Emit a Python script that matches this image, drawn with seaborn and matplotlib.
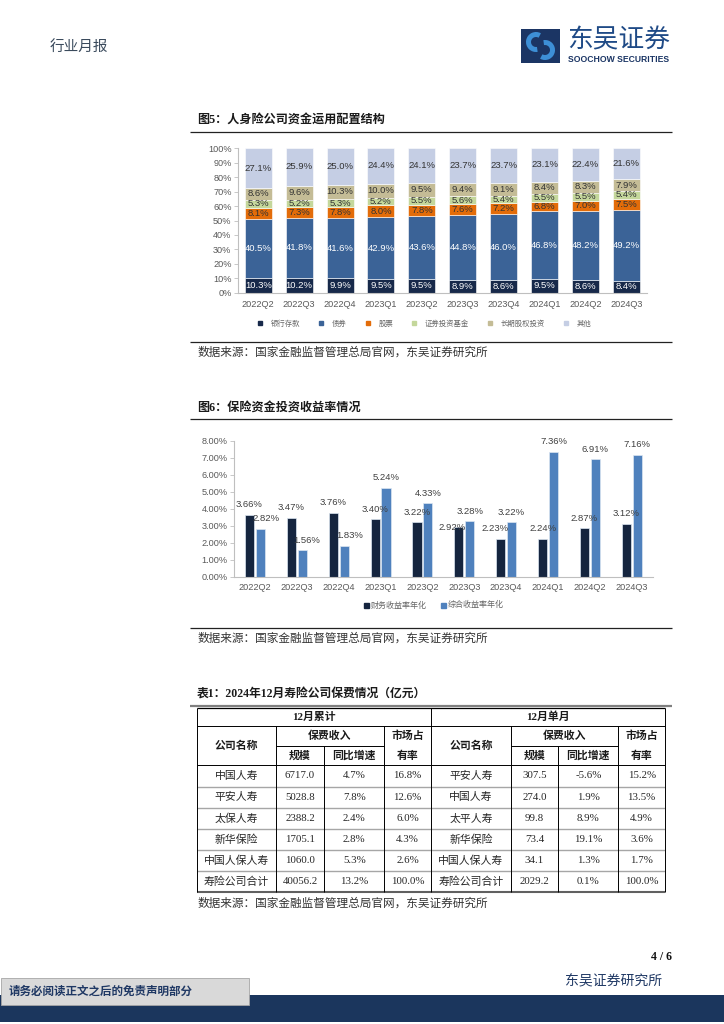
import numpy as np
import pandas as pd
import matplotlib
matplotlib.use("Agg")
import matplotlib.pyplot as plt
import matplotlib.patches as mpatches
from matplotlib.lines import Line2D
import seaborn as sns

# 季度
quarters = ["2022Q2", "2022Q3", "2022Q4", "2023Q1", "2023Q2",
            "2023Q3", "2023Q4", "2024Q1", "2024Q2", "2024Q3"]

# 图5 资金运用配置结构 (%)
bank = [10.3, 10.2, 9.9, 9.5, 9.5, 8.9, 8.6, 9.5, 8.6, 8.4]
bond = [40.5, 41.8, 41.6, 42.9, 43.6, 44.8, 46.0, 46.8, 48.2, 49.2]
stock = [8.1, 7.3, 7.8, 8.0, 7.8, 7.6, 7.2, 6.8, 7.0, 7.5]
fund = [5.3, 5.2, 5.3, 5.2, 5.5, 5.6, 5.4, 5.5, 5.5, 5.4]
equity = [8.6, 9.6, 10.3, 10.0, 9.5, 9.4, 9.1, 8.4, 8.3, 7.9]
other = [27.1, 25.9, 25.0, 24.4, 24.1, 23.7, 23.7, 23.1, 22.4, 21.6]
alloc_names = ["银行存款", "债券", "股票", "证券投资基金", "长期股权投资", "其他"]

# 图6 投资收益率 (%)
fin_yield = [3.66, 3.47, 3.76, 3.40, 3.22, 2.92, 2.23, 2.24, 2.87, 3.12]
comp_yield = [2.82, 1.56, 1.83, 5.24, 4.33, 3.28, 3.22, 7.36, 6.91, 7.16]
yield_names = ["财务收益率年化", "综合收益率年化"]

# 表1 保费情况
left_names = ["中国人寿", "平安人寿", "太保人寿", "新华保险", "中国人保人寿", "寿险公司合计"]
left_scale = [6717.0, 5028.8, 2388.2, 1705.1, 1060.0, 40056.2]
left_yoy = [4.7, 7.8, 2.4, 2.8, 5.3, 13.2]
left_share = [16.8, 12.6, 6.0, 4.3, 2.6, 100.0]
right_names = ["平安人寿", "中国人寿", "太平人寿", "新华保险", "中国人保人寿", "寿险公司合计"]
right_scale = [307.5, 274.0, 99.8, 73.4, 34.1, 2029.2]
right_yoy = [-5.6, 1.9, 8.9, 19.1, 1.3, 0.1]
right_share = [15.2, 13.5, 4.9, 3.6, 1.7, 100.0]

sns.set_theme(style="white")
plt.rcParams['font.family'] = ['Liberation Sans', 'Noto Sans CJK SC', 'DejaVu Sans']
plt.rcParams['axes.unicode_minus'] = False

W, H = 724, 1024
fig = plt.figure(figsize=(7.24, 10.24), dpi=100)

# 整页的底层坐标 (像素)
page = fig.add_axes([0, 0, 1, 1])
page.set_xlim(0, W)
page.set_ylim(H, 0)
page.axis('off')

SERIF = ['Liberation Serif', 'Noto Sans CJK SC']
CJK = ['Noto Sans CJK SC', 'DejaVu Sans']
NAVY = '#1B365D'


def hline(x0, x1, y, color='#000000', lw=0.7):
    page.plot([x0, x1], [y, y], color=color, lw=lw, solid_capstyle='butt')


def vline(x, y0, y1, color='#000000', lw=0.7):
    page.plot([x, x], [y0, y1], color=color, lw=lw, solid_capstyle='butt')


def axes_px(left, top, right, bottom):
    return fig.add_axes([left / W, 1 - bottom / H, (right - left) / W, (bottom - top) / H])


def style_axes(ax):
    sns.despine(ax=ax)
    for s in ['left', 'bottom']:
        ax.spines[s].set_color('#BFBFBF')
        ax.spines[s].set_linewidth(0.8)
    ax.patch.set_alpha(0)
    ax.set_xlabel('')
    ax.set_ylabel('')


# ---------- 页眉 ----------
page.text(50, 47, "行业月报", fontsize=10.5, color='#3A4A5C', family=CJK, va='center', ha='left')
page.add_patch(mpatches.Rectangle((521, 29), 39, 34, color='#1B3564', lw=0))
page.add_patch(mpatches.Arc((536, 42), 15, 15, theta1=80, theta2=300, color='#3D8FD6', lw=3.6))
page.add_patch(mpatches.Arc((545, 50), 15, 15, theta1=260, theta2=480, color='#3D8FD6', lw=3.6))
page.text(567, 40, "东吴证券", fontsize=18.5, color='#1F4A86', family=CJK, va='center', ha='left')
page.text(568, 60, "SOOCHOW SECURITIES", fontsize=6.2, color='#1B3564', weight='bold',
          family=['Liberation Sans'], va='center', ha='left')

# ---------- 图5 ----------
page.text(197, 120, "图5：人身险公司资金运用配置结构", fontsize=8.7, weight='bold', family=SERIF,
          color='#1A1A1A', va='center', ha='left')
hline(190, 672, 131.5, color='#222222', lw=0.9)

ax1 = axes_px(237.8, 148.3, 646.8, 292.7)
alloc = [bank, bond, stock, fund, equity, other]
alloc_colors = ['#17294A', '#3B6397', '#E36C09', '#C4D79B', '#C4BC96', '#C5CEE4']
label_colors = ['white', 'white', '#333333', '#333333', '#333333', '#333333']
bottom = np.zeros(len(quarters))
for vals, col, tcol in zip(alloc, alloc_colors, label_colors):
    sns.barplot(x=quarters, y=vals, color=col, saturation=1, width=0.66, bottom=bottom,
                edgecolor='white', linewidth=0.4, ax=ax1)
    ax1.bar_label(ax1.containers[-1], labels=[f"{v:.1f}%" for v in vals], label_type='center',
                  fontsize=6.8, color=tcol)
    bottom = bottom + np.array(vals)
ax1.set_xlim(-0.5, len(quarters) - 0.5)
ax1.set_ylim(0, 100)
ax1.set_yticks(np.arange(0, 101, 10))
ax1.set_yticklabels([f"{t}%" for t in range(0, 101, 10)])
style_axes(ax1)
ax1.tick_params(axis='y', length=3, width=0.6, color='#BFBFBF', pad=1.5, labelsize=6.6,
                labelcolor='#595959', left=True)
ax1.tick_params(axis='x', length=0, pad=5, labelsize=6.6, labelcolor='#595959')
h1 = [Line2D([], [], marker='s', ls='', markersize=3.4, color=c) for c in alloc_colors]
ax1.legend(h1, alloc_names, loc='center', bbox_to_anchor=(0.455, -0.217), ncol=6, frameon=False,
           prop={'family': CJK, 'size': 5.3}, labelcolor='#666666', handletextpad=1.0,
           columnspacing=2.3, handlelength=1.0)

hline(190, 672, 341.5, color='#222222', lw=0.9)
page.text(197, 352, "数据来源：国家金融监督管理总局官网，东吴证券研究所", fontsize=8.4, family=CJK,
          color='#333333', va='center', ha='left')

# ---------- 图6 ----------
page.text(197, 407.5, "图6：保险资金投资收益率情况", fontsize=8.7, weight='bold', family=SERIF,
          color='#1A1A1A', va='center', ha='left')
hline(190, 672, 418.5, color='#222222', lw=0.9)

ax2 = axes_px(234, 440.7, 652.7, 577)
df2 = pd.DataFrame({
    "季度": quarters * 2,
    "收益率": fin_yield + comp_yield,
    "类型": [yield_names[0]] * len(quarters) + [yield_names[1]] * len(quarters),
})
yield_colors = ['#15253F', '#4F81BD']
sns.barplot(data=df2, x="季度", y="收益率", hue="类型", palette=yield_colors, saturation=1,
            width=0.52, gap=0.16, edgecolor='#DCE6F2', linewidth=0.5, legend=False, ax=ax2)
# 数据标签的位置微调 (像素: 右移, 上移)，与原图中避让重叠的位置一致
label_nudge = {(0, "2023Q3"): (-7, -10), (0, "2023Q4"): (-6, 0),
               (1, "2022Q2"): (6, 0), (1, "2022Q3"): (4, 0), (1, "2022Q4"): (6, 0)}
for k, (cont, vals) in enumerate(zip(ax2.containers, [fin_yield, comp_yield])):
    anns = ax2.bar_label(cont, labels=[f"{v:.2f}%" for v in vals], padding=4, fontsize=6.8,
                         color='#404040')
    for q, ann in zip(quarters, anns):
        dx, dy = label_nudge.get((k, q), (0, 0))
        ann.xyann = (dx * 0.72, 4 + dy * 0.72)
ax2.set_xlim(-0.5, len(quarters) - 0.5)
ax2.set_ylim(0, 8)
ax2.set_yticks(np.arange(0, 8.01, 1))
ax2.set_yticklabels([f"{t:.2f}%" for t in np.arange(0, 8.01, 1)])
style_axes(ax2)
ax2.tick_params(axis='y', length=3, width=0.6, color='#BFBFBF', pad=1.5, labelsize=6.6,
                labelcolor='#595959', left=True)
ax2.tick_params(axis='x', length=0, pad=4, labelsize=6.6, labelcolor='#595959')
h2 = [Line2D([], [], marker='s', ls='', markersize=3.6, color=c) for c in yield_colors]
ax2.legend(h2, yield_names, loc='center', bbox_to_anchor=(0.475, -0.205), ncol=2, frameon=False,
           prop={'family': CJK, 'size': 5.8}, labelcolor='#666666', handletextpad=0.2,
           columnspacing=1.6, handlelength=0.8)

hline(190, 672, 628, color='#222222', lw=0.9)
page.text(197, 638.5, "数据来源：国家金融监督管理总局官网，东吴证券研究所", fontsize=8.4, family=CJK,
          color='#333333', va='center', ha='left')

# ---------- 表1 ----------
page.text(197, 694.5, "表1：2024年12月寿险公司保费情况（亿元）", fontsize=8.5, weight='bold', family=SERIF,
          color='#1A1A1A', va='center', ha='left')
hline(190, 672, 705.5, color='#808080', lw=1.6)

cols = [196.7, 275.7, 324.3, 384.3, 431.0, 510.7, 558.3, 618.3, 665.0]
head_y = [707.7, 726.0, 746.0, 765.0]
row_y = [765.0, 786.7, 807.7, 829.0, 850.0, 871.0, 892.3]
tbl_top, tbl_bot = head_y[0], row_y[-1]

hline(cols[0], cols[-1], tbl_top, lw=0.9)
hline(cols[0], cols[-1], head_y[1], lw=0.7)
hline(cols[1], cols[3], head_y[2], lw=0.7)
hline(cols[5], cols[7], head_y[2], lw=0.7)
hline(cols[0], cols[-1], head_y[3], lw=0.7)
for y in row_y[1:-1]:
    hline(cols[0], cols[-1], y, color='#A6A6A6', lw=1.0)
hline(cols[0], cols[-1], tbl_bot, color='#606060', lw=1.5)
vline(cols[0], tbl_top, tbl_bot)
vline(cols[4], tbl_top, tbl_bot)
vline(cols[-1], tbl_top, tbl_bot)
for i in [1, 3, 5, 7]:
    vline(cols[i], head_y[1], tbl_bot)
for i in [2, 6]:
    vline(cols[i], head_y[2], tbl_bot)

cx = [(cols[i] + cols[i + 1]) / 2 for i in range(8)]
hy = [(head_y[i] + head_y[i + 1]) / 2 for i in range(3)]
hk = dict(fontsize=7.8, weight='bold', family=SERIF, color='#1A1A1A', ha='center', va='center')
page.text((cols[0] + cols[4]) / 2, hy[0], "12月累计", **hk)
page.text((cols[4] + cols[-1]) / 2, hy[0], "12月单月", **hk)
for off in [0, 4]:
    page.text(cx[off], (head_y[1] + head_y[3]) / 2, "公司名称", **hk)
    page.text((cols[off + 1] + cols[off + 3]) / 2, hy[1], "保费收入", **hk)
    page.text(cx[off + 1], hy[2], "规模", **hk)
    page.text(cx[off + 2], hy[2], "同比增速", **hk)
    page.text(cx[off + 3], hy[1], "市场占", **hk)
    page.text(cx[off + 3], hy[2], "有率", **hk)

dk = dict(fontsize=7.8, family=SERIF, color='#262626', ha='center', va='center')
for r in range(len(left_names)):
    yc = (row_y[r] + row_y[r + 1]) / 2
    cells = [left_names[r], f"{left_scale[r]:.1f}", f"{left_yoy[r]:.1f}%", f"{left_share[r]:.1f}%",
             right_names[r], f"{right_scale[r]:.1f}", f"{right_yoy[r]:.1f}%", f"{right_share[r]:.1f}%"]
    for c, s in enumerate(cells):
        page.text(cx[c], yc, s, **dk)

page.text(197, 903.5, "数据来源：国家金融监督管理总局官网，东吴证券研究所", fontsize=8.4, family=CJK,
          color='#333333', va='center', ha='left')

# ---------- 页脚 ----------
page.text(672, 957, "4 / 6", fontsize=8.5, weight='bold', family=SERIF, color='#111111',
          ha='right', va='center')
page.text(662, 981.5, "东吴证券研究所", fontsize=10, family=CJK, color='#1F3864',
          ha='right', va='center')
page.add_patch(mpatches.Rectangle((0, 995), W, 27, color=NAVY, lw=0))
page.add_patch(mpatches.Rectangle((0.5, 978), 248, 27, facecolor='#D9D9D9', edgecolor='#A6A6A6', lw=0.6))
page.text(9, 991.5, "请务必阅读正文之后的免责声明部分", fontsize=8.3, weight='bold', family=CJK,
          color='#1F3864', ha='left', va='center')

fig.savefig("out.png", dpi=100)
